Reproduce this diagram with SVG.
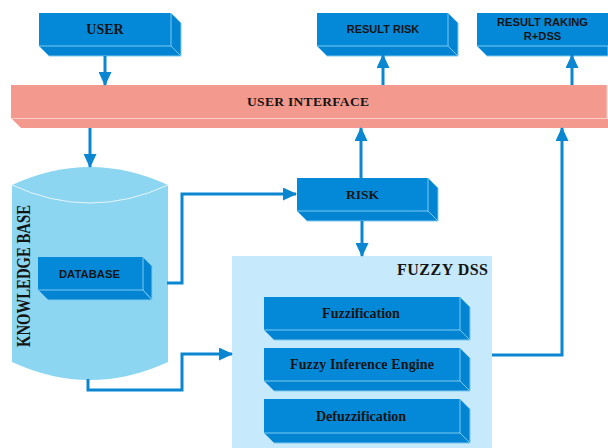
<svg xmlns="http://www.w3.org/2000/svg" width="608" height="448" viewBox="0 0 608 448">
  <style>
    .front { fill: #0389d8; }
    .side { fill: #0284d2; stroke: #7cc9ef; stroke-width: 1; }
    .serif { font-family: "Liberation Serif", "Times New Roman", serif; font-weight: bold; fill: #141414; }
    .sans { font-family: "Liberation Sans", Arial, sans-serif; font-weight: bold; fill: #141414; }
    .conn { fill: none; stroke: #0a87d0; stroke-width: 3; }
  </style>
  <defs>
    <marker id="arrow" viewBox="0 0 14 13" refX="13" refY="6.5" markerWidth="14" markerHeight="13" markerUnits="userSpaceOnUse" orient="auto">
      <path d="M0,0 L14,6.5 L0,13 Z" fill="#0a87d0"/>
    </marker>
  </defs>

  <rect width="608" height="448" fill="#ffffff"/>

  <!-- user interface bar -->
  <g id="user-interface">
    <rect x="11" y="85" width="596" height="33" fill="#f4998d"/>
    <path d="M11,118 L21,128 L608,128 L608,118 Z" fill="#f4998d"/>
    <path d="M11,118.5 L608,118.5 M607,85 L607,118" fill="none" stroke="#fbcfc9" stroke-width="1"/>
    <text class="serif" x="308" y="105.5" font-size="13.5" text-anchor="middle" textLength="122">USER INTERFACE</text>
  </g>

  <!-- knowledge base cylinder -->
  <g id="knowledge-base">
    <path d="M12,185 Q90,149 168,185 L168,362 Q90,398 12,362 Z" fill="#8dd6f1"/>
    <path d="M12,185 Q90,221 168,185" fill="none" stroke="#e6f6fc" stroke-width="1"/>
    <text class="serif" transform="translate(30,276) rotate(-90)" font-size="18" text-anchor="middle" textLength="142" lengthAdjust="spacingAndGlyphs">KNOWLEDGE BASE</text>
  </g>

  <!-- fuzzy DSS panel -->
  <g id="fuzzy-dss">
    <rect x="232" y="256" width="260" height="192" fill="#c6e9fb"/>
    <text class="serif" x="488" y="275" font-size="16" text-anchor="end" textLength="91">FUZZY DSS</text>
  </g>

  <!-- 3D boxes -->
  <g id="user">
    <rect class="front" x="39" y="13" width="132" height="33"/>
    <path class="side" d="M171,13 L181,23 L181,56 L171,46 Z"/>
    <path class="side" d="M39,46 L49,56 L181,56 L171,46 Z"/>
    <text class="serif" x="105" y="33.5" font-size="14" text-anchor="middle">USER</text>
  </g>

  <g id="result-risk">
    <rect class="front" x="317" y="13" width="131" height="33"/>
    <path class="side" d="M448,13 L458,23 L458,56 L448,46 Z"/>
    <path class="side" d="M317,46 L327,56 L458,56 L448,46 Z"/>
    <text class="sans" x="383" y="33" font-size="11" text-anchor="middle">RESULT RISK</text>
  </g>

  <g id="result-ranking">
    <rect class="front" x="477" y="13" width="131" height="33"/>
    <path class="side" d="M477,46 L487,56 L608,56 L608,46 Z"/>
    <text class="sans" x="542.5" y="26" font-size="11.2" text-anchor="middle">RESULT RAKING</text>
    <text class="sans" x="542.5" y="40" font-size="11.2" text-anchor="middle">R+DSS</text>
  </g>

  <g id="database">
    <rect class="front" x="38" y="257" width="105" height="33"/>
    <path class="side" d="M143,257 L152,266 L152,300 L143,290 Z"/>
    <path class="side" d="M38,290 L48,300 L152,300 L143,290 Z"/>
    <text class="sans" x="89.5" y="278" font-size="11.3" text-anchor="middle">DATABASE</text>
  </g>

  <g id="risk">
    <rect class="front" x="297" y="178" width="131" height="33"/>
    <path class="side" d="M428,178 L438,188 L438,221 L428,211 Z"/>
    <path class="side" d="M297,211 L307,221 L438,221 L428,211 Z"/>
    <text class="serif" x="362.5" y="198.5" font-size="13.5" text-anchor="middle">RISK</text>
  </g>

  <g id="fuzzification">
    <rect class="front" x="264" y="297" width="196" height="33"/>
    <path class="side" d="M460,297 L470,307 L470,340 L460,330 Z"/>
    <path class="side" d="M264,330 L274,340 L470,340 L460,330 Z"/>
    <text class="serif" x="361" y="317.5" font-size="14" text-anchor="middle">Fuzzification</text>
  </g>

  <g id="inference-engine">
    <rect class="front" x="264" y="348" width="196" height="33"/>
    <path class="side" d="M460,348 L470,358 L470,391 L460,381 Z"/>
    <path class="side" d="M264,381 L274,391 L470,391 L460,381 Z"/>
    <text class="serif" x="362" y="369" font-size="14" text-anchor="middle" textLength="144">Fuzzy Inference Engine</text>
  </g>

  <g id="defuzzification">
    <rect class="front" x="264" y="399" width="196" height="34"/>
    <path class="side" d="M460,399 L470,409 L470,443 L460,433 Z"/>
    <path class="side" d="M264,433 L274,443 L470,443 L460,433 Z"/>
    <text class="serif" x="361" y="420.5" font-size="14" text-anchor="middle">Defuzzification</text>
  </g>

  <!-- connectors -->
  <g id="connectors">
    <path class="conn" d="M105,56 L105,85" marker-end="url(#arrow)"/>
    <path class="conn" d="M383,85 L383,55" marker-end="url(#arrow)"/>
    <path class="conn" d="M572,85 L572,55" marker-end="url(#arrow)"/>
    <path class="conn" d="M90,128 L90,167" marker-end="url(#arrow)"/>
    <path class="conn" d="M167,283 L182,283 L182,194 L296,194" marker-end="url(#arrow)"/>
    <path class="conn" d="M361,178 L361,128" marker-end="url(#arrow)"/>
    <path class="conn" d="M362,221 L362,256" marker-end="url(#arrow)"/>
    <path class="conn" d="M88,379 L88,390 L182,390 L182,354 L232,354" marker-end="url(#arrow)"/>
    <path class="conn" d="M492,355 L562,355 L562,128" marker-end="url(#arrow)"/>
  </g>
</svg>
